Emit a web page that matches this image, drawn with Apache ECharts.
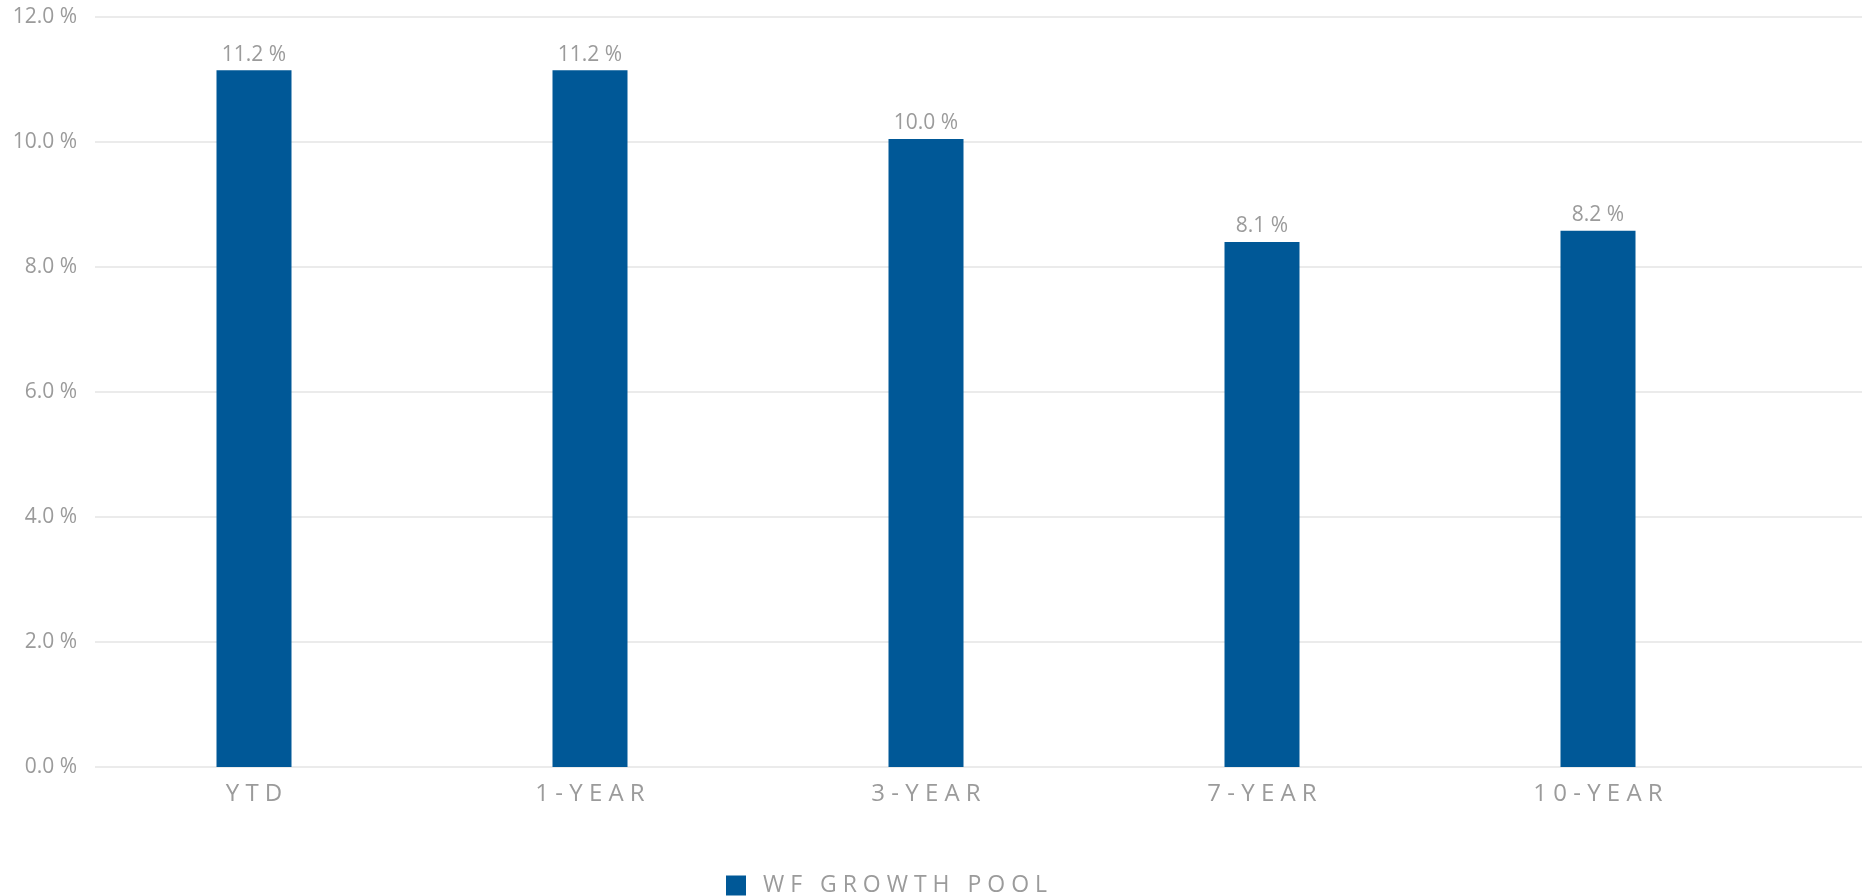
<!DOCTYPE html>
<html>
<head>
<meta charset="utf-8">
<script src="https://cdn.jsdelivr.net/npm/echarts@6/dist/echarts.min.js"></script>
<style>
html,body{margin:0;padding:0;background:#fff;}
#chart{width:1872px;height:896px;}
</style>
</head>
<body>
<div id="chart"></div>
<script>
const categories = ['YTD', '1-YEAR', '3-YEAR', '7-YEAR', '10-YEAR'];
const barValues = [11.15, 11.15, 10.05, 8.40, 8.58];
const labelTexts = ['11.2 %', '11.2 %', '10.0 %', '8.1 %', '8.2 %'];
const seriesName = 'WF GROWTH POOL';
const yMin = 0, yMax = 12, yInterval = 2;

const spaced = s => s.split('').join(' ');
const grey = '#9b9b9b';
const font = 'Open Sans';

const chart = echarts.init(document.getElementById('chart'));
chart.setOption({
  animation: false,
  textStyle: { fontFamily: font },
  grid: [
    { left: 95, right: 10, top: 17, bottom: 129 },
    { left: 86, width: 1680, top: 17, bottom: 129 }
  ],
  xAxis: [
    { gridIndex: 0, type: 'value', show: false, min: 0, max: 1 },
    {
      gridIndex: 1, type: 'category', data: categories,
      axisLine: { show: false }, axisTick: { show: false },
      axisLabel: { color: grey, fontSize: 24, fontFamily: font, margin: 15,
        formatter: v => spaced(v) }
    }
  ],
  yAxis: [
    {
      gridIndex: 0, type: 'value', min: yMin, max: yMax, interval: yInterval,
      axisLine: { show: false }, axisTick: { show: false },
      splitLine: { lineStyle: { color: '#e4e4e4', width: 1.5 } },
      axisLabel: { color: grey, fontSize: 21, fontFamily: font, margin: 18,
        formatter: v => v.toFixed(1) + ' %' }
    },
    { gridIndex: 1, type: 'value', min: yMin, max: yMax, interval: yInterval, show: false, splitLine: { show: false } }
  ],
  legend: {
    left: 721, top: 869,
    icon: 'rect', itemWidth: 20, itemHeight: 20,
    data: [seriesName],
    formatter: n => spaced(n),
    textStyle: { color: grey, fontSize: 23, fontFamily: font, padding: [0, 0, 0, 12] }
  },
  series: [{
    name: seriesName,
    type: 'bar',
    xAxisIndex: 1, yAxisIndex: 1,
    data: barValues,
    barWidth: 75,
    itemStyle: { color: '#005897' },
    label: {
      show: true, position: 'top', distance: 5,
      color: grey, fontSize: 21, fontFamily: font,
      formatter: p => labelTexts[p.dataIndex]
    }
  }]
});
</script>
</body>
</html>
